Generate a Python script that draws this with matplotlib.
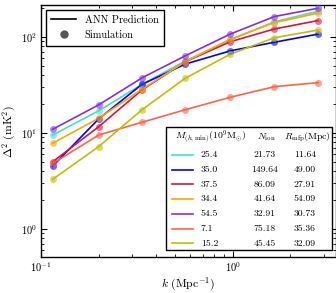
import matplotlib
matplotlib.use("Agg")
import matplotlib.pyplot as plt
from matplotlib.lines import Line2D
from matplotlib.patches import Rectangle

plt.rcParams.update({
    "font.family": "serif", "font.serif": ["cmr10"], "mathtext.fontset": "cm",
    "axes.formatter.use_mathtext": True, "font.size": 7.5,
    "xtick.direction": "in", "ytick.direction": "in",
    "xtick.top": True, "ytick.right": True,
    "xtick.major.size": 4, "ytick.major.size": 4,
    "xtick.minor.size": 2, "ytick.minor.size": 2,
    "axes.linewidth": 1.0,
})

k = [0.115, 0.2, 0.336, 0.564, 0.97, 1.65, 2.79]

colors = ["#40E0D0", "#0000FF", "#DC143C", "#FFA500", "#8A2BE2", "#FF6347", "#BFBF00"]
m_hmin = ["25.4", "35.0", "37.5", "34.4", "54.5", "7.1", "15.2"]
n_ion = ["21.73", "149.64", "86.09", "41.64", "32.91", "75.18", "45.45"]
r_mfp = ["11.64", "49.00", "27.91", "54.09", "30.73", "35.36", "32.09"]

ps = [
    [9.5, 17.0, 32.0, 56.0, 93.0, 144.0, 185.0],    # cyan
    [4.5, 14.0, 32.0, 52.0, 71.5, 88.0, 107.0],     # blue
    [5.0, 11.6, 28.0, 55.0, 89.0, 121.0, 148.0],    # crimson
    [7.8, 14.2, 28.5, 55.0, 94.6, 141.0, 177.0],    # orange
    [10.9, 19.6, 37.4, 63.4, 107.0, 163.0, 199.0],  # purple
    [4.8, 9.5, 12.9, 17.4, 23.5, 30.3, 33.4],       # tomato
    [3.28, 7.2, 17.4, 37.0, 66.0, 98.0, 118.0],     # olive
]

fig = plt.figure(figsize=(3.36, 2.93), dpi=100)
ax = fig.add_axes([0.122, 0.123, 0.877, 0.860])

for c, y in zip(colors, ps):
    ax.plot(k, y, color=c, lw=1.2, zorder=2)
    ax.plot(k, y, "o", color=c, ms=5, alpha=0.6, mec="none", zorder=3)

ax.set_xscale("log"); ax.set_yscale("log")
ax.set_xlim(0.1, 3.44); ax.set_ylim(0.51, 215)
ax.tick_params(which="both", labelsize=7.5, pad=2.5)
ax.set_xlabel(r"$k\ (\mathrm{Mpc}^{-1})$", fontsize=8.5, labelpad=1)
ax.set_ylabel(r"$\Delta^2\ (\mathrm{mK}^2)$", fontsize=8.5, labelpad=2)

handles = [Line2D([], [], color="black", lw=1.2),
           Line2D([], [], ls="none", marker="o", color="#555555", ms=5)]
leg = ax.legend(handles, ["ANN Prediction", "Simulation"], loc="upper left",
                fontsize=7.5, fancybox=False, edgecolor="black", framealpha=1,
                bbox_to_anchor=(0.0, 1.0), borderaxespad=0.45, borderpad=0.55,
                handlelength=2.4, handletextpad=0.8, labelspacing=0.55)
leg.get_frame().set_linewidth(1.0)

# parameter table
ax.add_patch(Rectangle((0.424, 0.028), 0.562, 0.488, transform=ax.transAxes,
                       facecolor="white", edgecolor="black", lw=1.0, zorder=4))
ax.text(0.454, 0.475, r"$M_{(h,\mathrm{min})}(10^9\mathrm{M}_{\odot})$", transform=ax.transAxes,
        ha="left", va="center", fontsize=7, zorder=5)
ax.text(0.765, 0.475, r"$N_{\mathrm{ion}}$", transform=ax.transAxes,
        ha="center", va="center", fontsize=7, zorder=5)
ax.text(0.985, 0.475, r"$R_{\mathrm{mfp}}(\mathrm{Mpc})$", transform=ax.transAxes,
        ha="right", va="center", fontsize=7, zorder=5)
for i, c in enumerate(colors):
    yy = 0.405 - i * 0.0585
    ax.add_line(Line2D([0.444, 0.515], [yy, yy], color=c, lw=1.2,
                       transform=ax.transAxes, zorder=5))
    ax.text(0.542, yy, m_hmin[i], transform=ax.transAxes, ha="left", va="center",
            fontsize=7, zorder=5)
    ax.text(0.76, yy, n_ion[i], transform=ax.transAxes, ha="center", va="center",
            fontsize=7, zorder=5)
    ax.text(0.895, yy, r_mfp[i], transform=ax.transAxes, ha="center", va="center",
            fontsize=7, zorder=5)

fig.savefig("out.png", dpi=100)
